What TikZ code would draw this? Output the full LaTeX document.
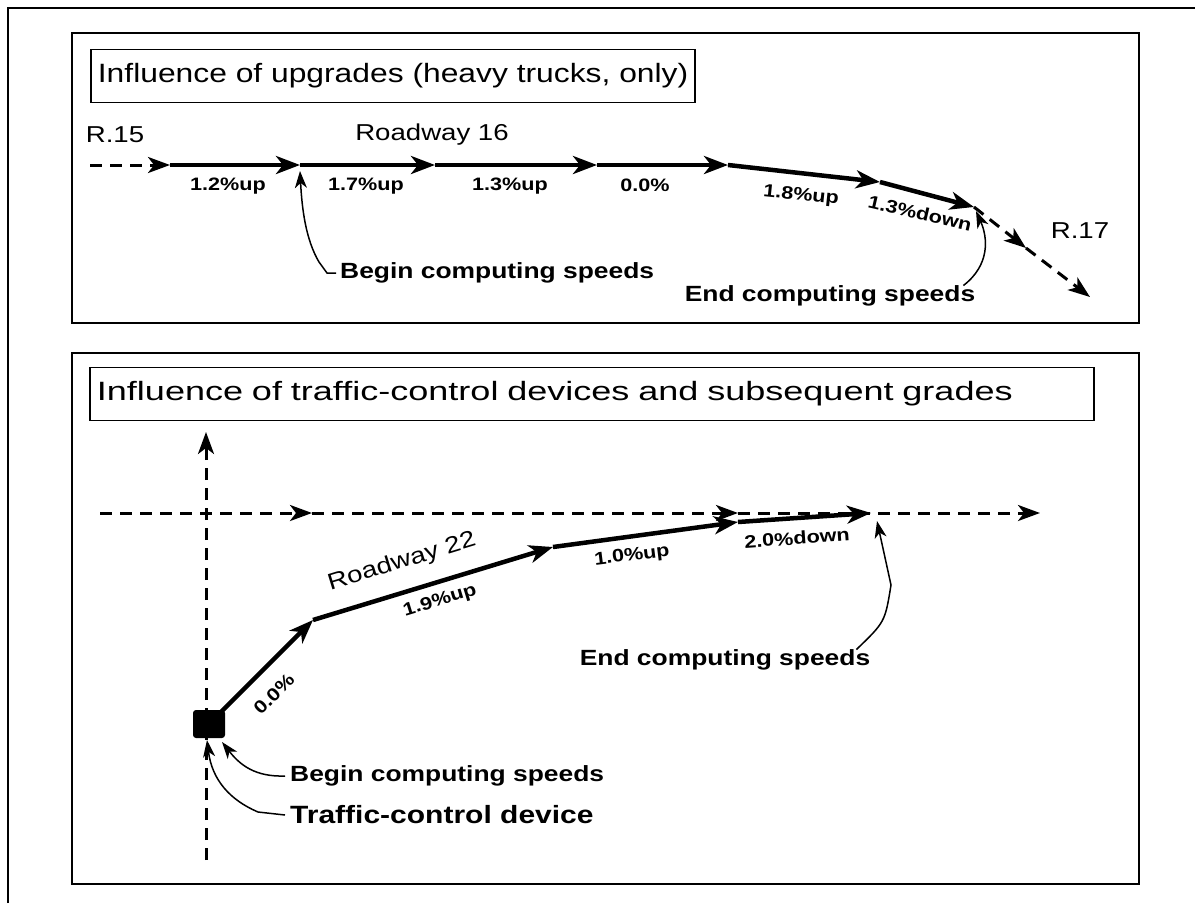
\documentclass[tikz,border=0pt]{standalone}
\usepackage{fontspec}
\setmainfont{Liberation Sans}[FakeStretch=1.2]
\newfontfamily\widefont{Liberation Sans}[FakeStretch=1.36]
\usetikzlibrary{arrows.meta}

\begin{document}
\begin{tikzpicture}[
    x=1pt, y=-1pt,
    seg/.style={line width=4.5pt, -{Stealth[length=24pt,width=18pt,inset=7pt]}},
    dashseg/.style={line width=3pt, dash pattern=on 12pt off 8pt, -{Stealth[length=22pt,width=16pt,inset=6pt]}},
    callout/.style={line width=1.5pt, -{Stealth[length=17pt,width=12pt,inset=5pt]}},
    panel/.style={line width=2.5pt},
    titlebox/.style={draw, line width=1.8pt, inner xsep=7pt, minimum height=53pt, anchor=west, font=\fontsize{26.5}{30}\selectfont},
    roadname/.style={font=\fontsize{23}{27}\selectfont},
    grade/.style={font=\bfseries\fontsize{18}{21}\selectfont},
    note/.style={font=\bfseries\fontsize{22}{26}\selectfont, inner sep=0pt},
    bignote/.style={font=\bfseries\fontsize{25}{30}\selectfont, inner sep=0pt},
    device/.style={fill=black, rounded corners=3pt, minimum width=32pt, minimum height=28pt, inner sep=0pt}
]
\useasboundingbox (0,0) rectangle (1195,903);

% outer frame, cut off by the page
\draw[panel] (8,903) -- (8,8) -- (1195,8);

% =============================
% 1. Upgrades (heavy trucks)
% =============================
\draw[panel] (72,33) rectangle (1139,323);
\node[titlebox] (title1) at (90,76) {Influence of upgrades (heavy trucks, only)};

\coordinate (a0) at (90,165);
\coordinate (a1) at (170,165);
\coordinate (a2) at (300,165);
\coordinate (a3) at (435,165);
\coordinate (a4) at (597,165);
\coordinate (a5) at (728,165);
\coordinate (a6) at (880,182);
\coordinate (a7) at (974,207);
\coordinate (a8) at (1026,248);
\coordinate (a9) at (1090,297);

\draw[dashseg] (a0) -- (a1);
\draw[seg] (a1) -- (a2);
\draw[seg] (a2) -- (a3);
\draw[seg] (a3) -- (a4);
\draw[seg] (a4) -- (a5);
\draw[seg] (a5) -- (a6);
\draw[seg] (a6) -- (a7);
\draw[dashseg] (a7) -- (a8);
\draw[dashseg] (a8) -- (a9);

\node[roadname] (r15) at (115,135) {R.15};
\node[roadname] (rw16) at (432,135) {Roadway 16};
\node[roadname] (r17) at (1080,231) {R.17};

\node[grade] (g1) at (228,186) {1.2\%up};
\node[grade] (g2) at (366,186) {1.7\%up};
\node[grade] (g3) at (510,186) {1.3\%up};
\node[grade] (g4) at (645,185) {0.0\%};
\node[grade, rotate=-6] (g5) at (801,196) {1.8\%up};
\node[grade, rotate=-13] (g6) at (920,213) {1.3\%down};

\node[note, anchor=west] (begin1) at (340,273) {Begin computing speeds};
\node[note] (end1) at (830,296) {End computing speeds};

\draw[callout] ([xshift=-4pt]begin1.west) -- ++(-9,0) -- ++(-8,-11)
    .. controls (306,240) and (302,210) .. (300,171);
\draw[callout] ([xshift=-12pt]end1.north east)
    .. controls (990,265) and (988,238) .. (976,211);

% =============================
% 2. Traffic-control devices
% =============================
\draw[panel] (72,353) rectangle (1139,884);
\node[titlebox, text width=990pt, align=left, font=\widefont\fontsize{26.5}{30}\selectfont] (title2) at (89,394)
    {Influence of traffic-control devices and subsequent grades};

\coordinate (v0) at (206,860);
\coordinate (v1) at (206,432);
\coordinate (h0) at (100,513);
\coordinate (h1) at (312,513);
\coordinate (h2) at (738,513);
\coordinate (h3) at (1040,513);

\draw[dashseg] (v0) -- (v1);
\draw[dashseg] (h0) -- (h1);
\draw[dashseg] (h1) -- (h2);
\draw[dashseg] (h2) -- (h3);

\coordinate (b1) at (313,620);
\coordinate (b2) at (553,547);
\coordinate (b3) at (738,522);
\coordinate (b4) at (871,513);

\node[device] (tcd) at (209,724) {};
\draw[seg] (tcd.center) -- (b1);
\draw[seg] (b1) -- (b2);
\draw[seg] (b2) -- (b3);
\draw[seg] (b3) -- (b4);

\node[grade, rotate=45] (g7) at (274,694) {0.0\%};
\node[roadname, rotate=17] (rw22) at (402,562) {Roadway 22};
\node[grade, rotate=17] (g8) at (440,601) {1.9\%up};
\node[grade, rotate=7] (g9) at (632,556) {1.0\%up};
\node[grade, rotate=4] (g10) at (797,538) {2.0\%down};

\node[note] (end2) at (725,660) {End computing speeds};
\node[note, anchor=west] (begin2) at (290,776) {Begin computing speeds};
\node[bignote, anchor=west] (tcdlabel) at (290,815) {Traffic-control device};

\draw[callout] ([xshift=-14pt]end2.north east)
    .. controls (885,622) .. (891,585) -- (877,521);
\draw[callout] ([xshift=-5pt]begin2.west)
    .. controls (255,777) and (240,765) .. (222,742);
\draw[callout] ([xshift=-5pt]tcdlabel.west) -- (258,812)
    .. controls (230,800) and (212,780) .. (207,740);
\end{tikzpicture}
\end{document}
